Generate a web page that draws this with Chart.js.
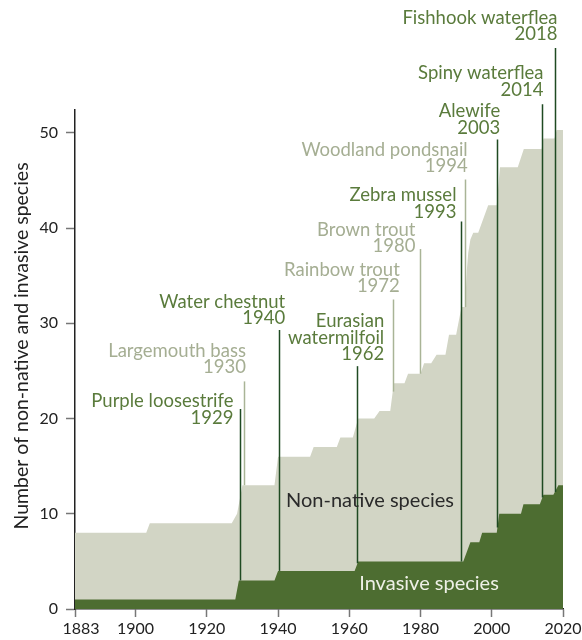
<!DOCTYPE html>
<html>
<head>
<meta charset="utf-8">
<script src="https://cdn.jsdelivr.net/npm/chart.js@4/dist/chart.umd.min.js"></script>
<style>
  html, body { margin: 0; padding: 0; background: #ffffff; }
  #wrap { width: 582px; height: 640px; }
</style>
</head>
<body>
<div id="wrap"><canvas id="c" width="582" height="640"></canvas></div>
<script>
// ---- Data ----
const nonNativeYear = [1883,1903,1904,1927,1928.5,1930,1939,1940,1949,1950,1956.5,1957.5,1961,1962.5,1967,1968.5,1971.5,1972.5,1975.5,1976.5,1980,1981,1983,1984.5,1987,1988,1990,1991.5,1992.5,1993,1993.4,1994,1994.8,1996.2,1999,2001.4,2002.3,2007.3,2009,2014,2014.5,2017.6,2018.2,2020];
const nonNativeCount = [8,8,9,9,10,13,13,16,16,17,17,18,18,20,20,20.8,20.8,23.7,23.7,24.7,24.7,25.8,25.8,26.7,26.7,28.8,28.8,31.7,31.7,35.6,37.4,38.8,39.5,39.5,42.4,42.4,46.4,46.4,48.3,48.3,49.4,49.4,50.3,50.3];

const invasiveYear = [1883,1928,1929,1939,1940,1961.5,1962.5,1992,1994,1996.5,1997.3,2001.4,2002.1,2008.2,2008.9,2013.5,2014.5,2017.3,2018.7,2020];
const invasiveCount = [1,1,3,3,4,4,5,5,7,7,8,8,10,10,11,11,12,12,13,13];

const xTickLabels = [1883,1900,1920,1940,1960,1980,2000,2020];
const yTickLabels = [0,10,20,30,40,50];

// Species introductions (marker lines)
const markerNames = [["Purple loosestrife"],["Largemouth bass"],["Water chestnut"],["Eurasian","watermilfoil"],["Rainbow trout"],["Brown trout"],["Zebra mussel"],["Woodland pondsnail"],["Alewife"],["Spiny waterflea"],["Fishhook waterflea"]];
const markerYears = ["1929","1930","1940","1962","1972","1980","1993","1994","2003","2014","2018"];
const markerAt = [1929.4,1930.5,1940.4,1962.3,1972.2,1979.9,1991.3,1992.4,2001.6,2014.2,2017.7];
const markerTop = [21.0,23.9,29.3,25.5,32.5,37.8,40.7,45.1,49.3,53.0,58.9];
const markerKind = ["invasive","non-native","invasive","invasive","non-native","non-native","invasive","non-native","invasive","invasive","invasive"];

// ---- Layout / style (not data) ----
const labelOffset = [[-7,8.7],[1.4,-14.3],[5.7,-11.7],[26.7,-11.7],[6.3,-13.3],[-5,-2.6],[-5,-9.7],[2.2,-13.3],[2.7,-11.6],[1,-14.7],[2,-14]];
const COL = {
  nonNative: '#d2d5c5',
  invasive: '#4d6d31',
  darkLine: '#1f4a22',
  lightLine: '#a9b496',
  darkText: '#5a7b3c',
  lightText: '#a5ae93',
  axis: '#222222',
  tick: '#777777'
};
const FONT = 'Lato, "Open Sans", sans-serif';

const toPts = (xs, ys) => xs.map((x, i) => ({x: x, y: ys[i]}));
function interp(xs, ys, x) {
  for (let i = 0; i < xs.length - 1; i++) {
    if (x >= xs[i] && x <= xs[i+1]) {
      const t = (x - xs[i]) / (xs[i+1] - xs[i] || 1);
      return ys[i] + t * (ys[i+1] - ys[i]);
    }
  }
  return ys[ys.length - 1];
}

const overlay = {
  id: 'overlay',
  afterDraw(chart) {
    const ctx = chart.ctx;
    const xs = chart.scales.x, ys = chart.scales.y;
    ctx.save();
    // marker lines
    markerAt.forEach((yr, i) => {
      const dark = markerKind[i] === 'invasive';
      const base = dark ? interp(invasiveYear, invasiveCount, yr) : interp(nonNativeYear, nonNativeCount, yr);
      const px = Math.round(xs.getPixelForValue(yr)) + 0.5;
      ctx.beginPath();
      ctx.strokeStyle = dark ? COL.darkLine : COL.lightLine;
      ctx.lineWidth = 1.5;
      ctx.moveTo(px, ys.getPixelForValue(base));
      ctx.lineTo(px, ys.getPixelForValue(markerTop[i]));
      ctx.stroke();
      // label
      const lines = markerNames[i].concat([markerYears[i]]);
      ctx.fillStyle = dark ? COL.darkText : COL.lightText;
      ctx.font = '18.5px ' + FONT;
      ctx.textAlign = 'right';
      ctx.textBaseline = 'middle';
      const rx = px + labelOffset[i][0];
      const lastY = ys.getPixelForValue(markerTop[i]) + labelOffset[i][1];
      const lh = 16.5;
      lines.forEach((t, j) => {
        ctx.fillText(t, rx, lastY - (lines.length - 1 - j) * lh);
      });
    });
    // area labels
    ctx.textAlign = 'center';
    ctx.textBaseline = 'middle';
    ctx.font = '20px ' + FONT;
    ctx.fillStyle = '#2a2a2a';
    ctx.fillText('Non-native species', 370, 501);
    ctx.fillStyle = '#eef0e6';
    ctx.fillText('Invasive species', 429, 584);
    // x tick labels
    ctx.font = '16px ' + FONT;
    ctx.fillStyle = '#222';
    xTickLabels.forEach((v, i) => {
      const off = i === 0 ? 6 : 0;
      ctx.fillText(String(v), xs.getPixelForValue(v) + off, 629);
    });
    // y axis title
    ctx.save();
    ctx.translate(22, 346);
    ctx.rotate(-Math.PI / 2);
    ctx.font = '19.5px ' + FONT;
    ctx.fillStyle = '#222';
    ctx.fillText('Number of non-native and invasive species', 0, 0);
    ctx.restore();
    ctx.restore();
  }
};

new Chart(document.getElementById('c'), {
  type: 'line',
  data: {
    datasets: [
      {
        label: 'Invasive species',
        data: toPts(invasiveYear, invasiveCount),
        backgroundColor: COL.invasive,
        borderWidth: 0,
        pointRadius: 0,
        fill: 'origin',
        tension: 0,
        order: 0
      },
      {
        label: 'Non-native species',
        data: toPts(nonNativeYear, nonNativeCount),
        backgroundColor: COL.nonNative,
        borderWidth: 0,
        pointRadius: 0,
        fill: 'origin',
        tension: 0,
        order: 1
      }
    ]
  },
  options: {
    responsive: false,
    animation: false,
    devicePixelRatio: 1,
    layout: { padding: { top: 110, right: 19, left: 0, bottom: 0 } },
    plugins: { legend: { display: false }, tooltip: { enabled: false } },
    scales: {
      x: {
        type: 'linear',
        min: 1883,
        max: 2020,
        afterBuildTicks: (s) => { s.ticks = xTickLabels.map(v => ({value: v})); },
        afterFit: (s) => { s.height = 31; s.paddingRight = 0; s.paddingLeft = 0; },
        ticks: { color: 'rgba(0,0,0,0)', font: { family: FONT, size: 6 }, maxRotation: 0, autoSkip: false },
        grid: { drawOnChartArea: false, drawTicks: true, tickLength: 8, tickColor: COL.tick, tickWidth: 1.5 },
        border: { display: true, color: COL.axis, width: 1.5 }
      },
      y: {
        type: 'linear',
        min: 0,
        max: 52.4,
        afterBuildTicks: (s) => { s.ticks = yTickLabels.map(v => ({value: v})); },
        afterFit: (s) => { s.width = 75; },
        ticks: { color: '#222', font: { family: FONT, size: 16 }, padding: 8 },
        grid: { drawOnChartArea: false, drawTicks: true, tickLength: 9, tickColor: COL.tick, tickWidth: 1.5 },
        border: { display: true, color: COL.axis, width: 1.5 }
      }
    }
  },
  plugins: [overlay]
});
</script>
</body>
</html>
